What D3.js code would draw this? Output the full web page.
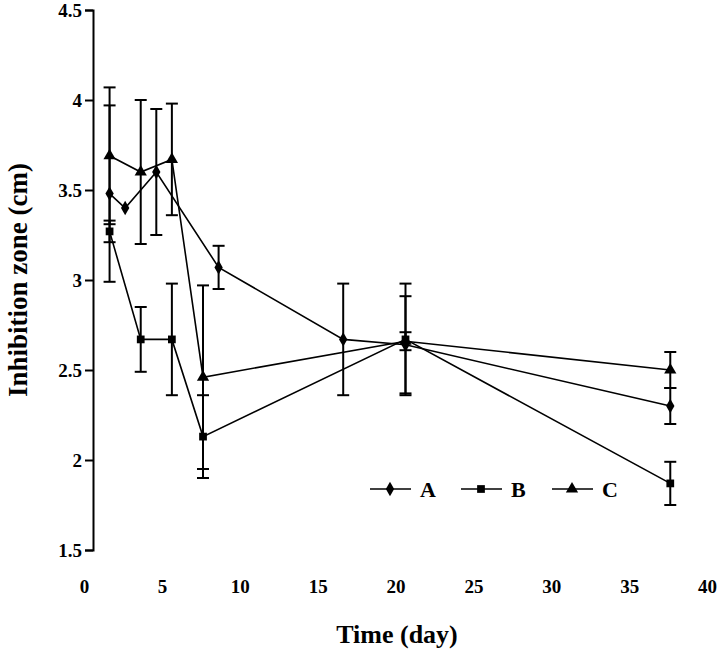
<!DOCTYPE html>
<html>
<head>
<meta charset="utf-8">
<script src="https://cdn.jsdelivr.net/npm/d3@7"></script>
<style>
  body { margin: 0; background: #fff; }
  svg text { font-family: "Liberation Serif", "DejaVu Serif", serif; font-weight: bold; fill: #000; }
</style>
</head>
<body>
<div id="chart"></div>
<script>
// Series values
const daysA = [1, 2, 4, 8, 16, 20, 37];
const valuesA = [3.48, 3.40, 3.60, 3.07, 2.67, 2.64, 2.30];
const errorsA = [0.49, 0, 0.35, 0.12, 0.31, 0.27, 0.10];

const daysB = [1, 3, 5, 7, 20, 37];
const valuesB = [3.27, 2.67, 2.67, 2.13, 2.67, 1.87];
const errorsB = [0.06, 0.18, 0.31, 0.23, 0.31, 0.12];

const daysC = [1, 3, 5, 7, 20, 37];
const valuesC = [3.69, 3.60, 3.67, 2.46, 2.66, 2.50];
const errorsC = [0.38, 0.40, 0.31, 0.51, 0.05, 0.10];

const seriesNames = ["A", "B", "C"];
const xTicks = [0, 5, 10, 15, 20, 25, 30, 35, 40];
const yTicks = [1.5, 2, 2.5, 3, 3.5, 4, 4.5];

const width = 728, height = 655;
const margin = { top: 10, right: 10, bottom: 105, left: 94 };

const svg = d3.select("#chart").append("svg")
  .attr("width", width)
  .attr("height", height);

const x = d3.scaleLinear().domain([0, 40]).range([margin.left, 717]);
const y = d3.scaleLinear().domain([1.5, 4.5]).range([550, margin.top]);

// Y axis
const yAxis = svg.append("g")
  .attr("transform", `translate(${x(0) - 1},0)`)
  .call(d3.axisLeft(y).tickValues(yTicks).tickFormat(d3.format("")).tickSize(8).tickPadding(3));
yAxis.select(".domain").attr("stroke", "#000").attr("stroke-width", 2);
yAxis.selectAll(".tick line").attr("stroke", "#000").attr("stroke-width", 2);
yAxis.selectAll(".tick text").style("font-size", "19px");

// X axis: labels only
const xAxis = svg.append("g")
  .attr("transform", `translate(0,${y(1.5)})`)
  .call(d3.axisBottom(x).tickValues(xTicks).tickSize(0).tickPadding(30));
xAxis.select(".domain").remove();
xAxis.selectAll(".tick text").style("font-size", "19px").attr("dx", -10);

// Axis titles
svg.append("text")
  .attr("x", 397)
  .attr("y", 643)
  .attr("text-anchor", "middle")
  .style("font-size", "26px")
  .text("Time (day)");

svg.append("text")
  .attr("transform", `translate(27,${y(3)}) rotate(-90)`)
  .attr("text-anchor", "middle")
  .style("font-size", "27px")
  .text("Inhibition zone (cm)");

const series = [
  { name: seriesNames[0], days: daysA, values: valuesA, errors: errorsA, symbol: d3.symbolDiamond, size: 60 },
  { name: seriesNames[1], days: daysB, values: valuesB, errors: errorsB, symbol: d3.symbolSquare, size: 60 },
  { name: seriesNames[2], days: daysC, values: valuesC, errors: errorsC, symbol: d3.symbolTriangle, size: 65 }
];

const line = d3.line()
  .x(d => x(d.day))
  .y(d => y(d.value));

series.forEach(s => {
  const pts = s.days.map((day, i) => ({ day, value: s.values[i], err: s.errors[i] }));
  const g = svg.append("g");

  // error bars
  pts.filter(p => p.err > 0).forEach(p => {
    g.append("line")
      .attr("x1", x(p.day)).attr("x2", x(p.day))
      .attr("y1", y(p.value + p.err)).attr("y2", y(p.value - p.err))
      .attr("stroke", "#000").attr("stroke-width", 2);
    [p.value + p.err, p.value - p.err].forEach(v => {
      g.append("line")
        .attr("x1", x(p.day) - 6).attr("x2", x(p.day) + 6)
        .attr("y1", y(v)).attr("y2", y(v))
        .attr("stroke", "#000").attr("stroke-width", 2);
    });
  });

  g.append("path")
    .datum(pts)
    .attr("fill", "none")
    .attr("stroke", "#000")
    .attr("stroke-width", 1.6)
    .attr("d", line);

  g.selectAll("path.pt")
    .data(pts)
    .join("path")
    .attr("class", "pt")
    .attr("transform", d => `translate(${x(d.day)},${y(d.value)})`)
    .attr("d", d3.symbol(s.symbol, s.size))
    .attr("fill", "#000");
});

// Legend
const legend = svg.append("g").attr("transform", "translate(370,489)");
series.forEach((s, i) => {
  const off = i * 91;
  legend.append("line")
    .attr("x1", off).attr("x2", off + 41)
    .attr("y1", 0).attr("y2", 0)
    .attr("stroke", "#000").attr("stroke-width", 1.6);
  legend.append("path")
    .attr("transform", `translate(${off + 20},0)`)
    .attr("d", d3.symbol(s.symbol, s.size))
    .attr("fill", "#000");
  legend.append("text")
    .attr("x", off + 50)
    .attr("y", 8)
    .style("font-size", "22px")
    .text(s.name);
});
</script>
</body>
</html>
